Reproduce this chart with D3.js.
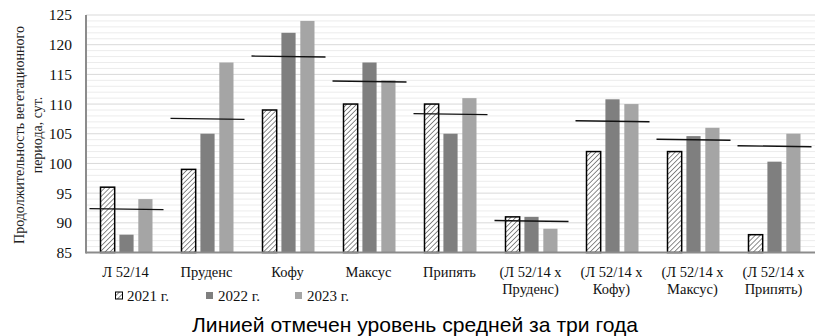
<!DOCTYPE html>
<html><head><meta charset="utf-8">
<script src="https://cdn.jsdelivr.net/npm/d3@7"></script>
<style>body{margin:0;background:#fff}svg{display:block}</style>
</head><body>
<svg id="c" width="824" height="336"></svg>
<script>
const categories = ["Л 52/14","Пруденс","Кофу","Максус","Припять","(Л 52/14 x|Пруденс)","(Л 52/14 x|Кофу)","(Л 52/14 x|Максус)","(Л 52/14 x|Припять)"];
const years = ["2021 г.","2022 г.","2023 г."];
const v2021 = [96,99,109,110,110,91,102,102,88];
const v2022 = [88,105,122,117,105,91,110.8,104.6,100.3];
const v2023 = [94,117,124,114,111,89,110,106,105];
const avg3 = [92.3,107.5,118,113.8,108.3,90.3,107.1,104,102.9];
const yTicks = [85,90,95,100,105,110,115,120,125];
const yTitle = ["Продолжительность вегетационного","периода, сут."];
const caption = "Линией отмечен уровень средней за три года";

const series = [v2021, v2022, v2023];
const fills = ["url(#hatch)","#7f7f7f","#a5a5a5"];
const serif = "Liberation Serif";

const svg = d3.select("#c");
const defs = svg.append("defs");
const pat = defs.append("pattern").attr("id","hatch").attr("patternUnits","userSpaceOnUse")
  .attr("width",3.5).attr("height",3.5).attr("patternTransform","rotate(45)");
pat.append("rect").attr("width",3.5).attr("height",3.5).attr("fill","#fff");
pat.append("line").attr("x1",0).attr("y1",0).attr("x2",0).attr("y2",3.5).attr("stroke","#666").attr("stroke-width",1.5);

const x0 = 86, x1 = 815, yTop = 15, yBot = 252.5;
const x = d3.scaleBand().domain(categories).range([x0,x1]);
const xs = d3.scaleBand().domain(years).range([-26,26]).paddingInner(0.25);
const y = d3.scaleLinear().domain([85,125]).range([yBot,yTop]);

// gridlines
svg.append("g").selectAll("line").data(d3.range(86,126)).join("line")
  .attr("x1",x0).attr("x2",x1).attr("y1",d=>y(d)).attr("y2",d=>y(d))
  .attr("stroke", d=> d%5===0 ? "#d9d9d9" : "#ececec").attr("stroke-width",1);

// bars
categories.forEach((c,i)=>{
  series.forEach((s,j)=>{
    const cx = x(c)+x.bandwidth()/2;
    svg.append("rect")
      .attr("x", cx + xs(years[j]))
      .attr("y", y(s[i]))
      .attr("width", xs.bandwidth())
      .attr("height", yBot - y(s[i]))
      .attr("fill", fills[j])
      .attr("stroke", j===0 ? "#000" : "none")
      .attr("stroke-width", j===0 ? 1.5 : 0);
  });
});

// mean lines
svg.append("g").selectAll("line").data(categories).join("line")
  .attr("x1",(d)=>x(d)+x.bandwidth()/2-37)
  .attr("x2",(d)=>x(d)+x.bandwidth()/2+37)
  .attr("y1",(d,i)=>y(avg3[i])-0.5)
  .attr("y2",(d,i)=>y(avg3[i])+0.5)
  .attr("stroke","#111").attr("stroke-width",1.4);

// axes lines
svg.append("line").attr("x1",x0).attr("x2",x0).attr("y1",yTop).attr("y2",yBot+1).attr("stroke","#8c8c8c").attr("stroke-width",2);
svg.append("line").attr("x1",x0).attr("x2",x1).attr("y1",yBot).attr("y2",yBot).attr("stroke","#8c8c8c").attr("stroke-width",2);

// y axis ticks
const ya = svg.append("g").attr("transform",`translate(${x0-14},0)`)
  .call(d3.axisLeft(y).tickValues(yTicks).tickSize(0).tickPadding(0).tickFormat(d3.format("d")));
ya.select(".domain").remove();
ya.attr("font-family",null);
ya.selectAll("text").style("font-family",serif).style("font-size","15.5px").attr("fill","#111");

// x labels
const xl = svg.append("g");
categories.forEach(c=>{
  const parts = c.split("|");
  const t = xl.append("text").attr("x",x(c)+x.bandwidth()/2-1).attr("text-anchor","middle")
    .style("font-family",serif).style("font-size","14.5px").attr("fill","#111");
  parts.forEach((p,k)=>t.append("tspan").attr("x",x(c)+x.bandwidth()/2-1).attr("y",277+k*17).text(p));
});

// y title
const yt = svg.append("text").attr("transform","translate(0,135) rotate(-90)")
  .attr("text-anchor","middle").style("font-family",serif).style("font-size","14px").attr("fill","#222");
yTitle.forEach((t,k)=>yt.append("tspan").attr("x",0).attr("y",24+k*18).text(t));

// legend
const legX = [115,206,295];
years.forEach((yr,j)=>{
  const lg = svg.append("g");
  if(j===0){
    lg.append("rect").attr("x",legX[j]+0.5).attr("y",292).attr("width",7).attr("height",7)
      .attr("fill","url(#hatch)").attr("stroke","#000").attr("stroke-width",1);
  } else {
    lg.append("rect").attr("x",legX[j]).attr("y",292).attr("width",7).attr("height",7).attr("fill",fills[j]);
  }
  lg.append("text").attr("x",legX[j]+12).attr("y",301).style("font-family",serif).style("font-size","15px").attr("fill","#111").text(yr);
});

// caption
svg.append("text").attr("x",415).attr("y",332).attr("text-anchor","middle")
  .style("font-family","Liberation Sans").style("font-size","21px").attr("fill","#000")
  .attr("textLength",446).attr("lengthAdjust","spacingAndGlyphs").text(caption);
</script>
</body></html>
